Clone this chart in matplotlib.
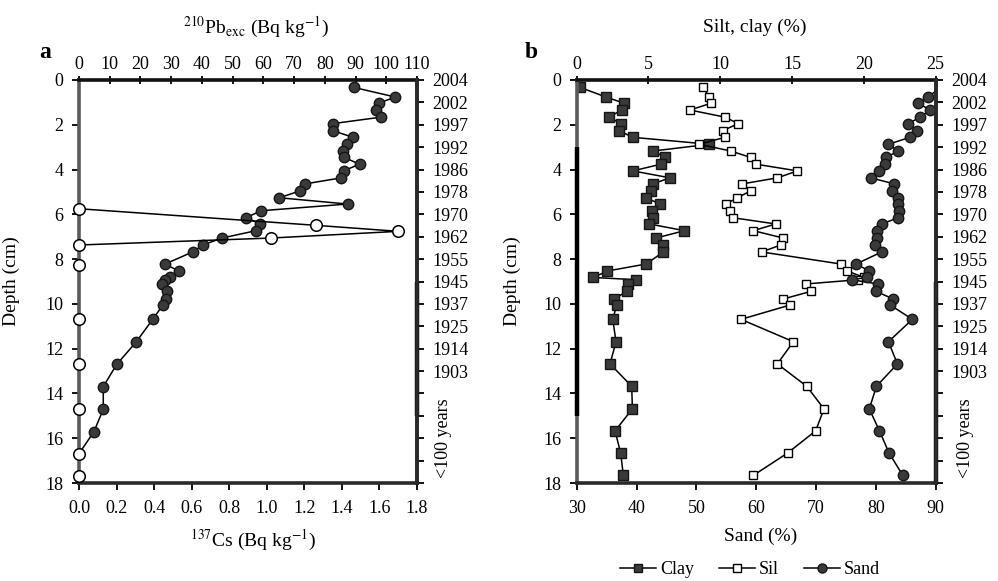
import numpy as np
import matplotlib
matplotlib.use("Agg")
import matplotlib.pyplot as plt
from matplotlib.lines import Line2D

plt.rcParams['font.family'] = ['Liberation Serif', 'DejaVu Serif']
plt.rcParams['mathtext.fontset'] = 'stix'

# ---------------- data: panel a ----------------
pb_depth = [0.33, 0.76, 1.04, 1.34, 1.66, 1.95, 2.26, 2.56, 2.87, 3.17, 3.46, 3.76,
            4.06, 4.37, 4.64, 4.95, 5.26, 5.54, 5.84, 6.15, 6.43, 6.73, 7.06, 7.37,
            7.68, 8.22, 8.55, 8.82, 8.92, 9.11, 9.44, 9.78, 10.05, 10.69, 11.70,
            12.70, 13.69, 14.70, 15.70, 16.69]
pb_exc = [89.4, 102.9, 97.5, 96.8, 98.3, 82.5, 82.5, 89.2, 87.2, 85.9, 86.3, 91.3,
          86.1, 85.4, 73.6, 72.0, 65.2, 87.4, 59.2, 54.4, 59.0, 57.6, 46.5, 40.3,
          37.0, 28.0, 32.7, 29.6, 28.0, 26.9, 28.8, 28.3, 27.3, 24.0, 18.6,
          12.3, 7.9, 7.9, 4.9, 0.0]
cs_depth = [5.75, 6.49, 6.76, 7.06, 7.37, 8.28, 10.69, 12.70, 14.70, 16.69, 17.70]
cs137 = [0.0, 1.26, 1.70, 1.02, 0.0, 0.0, 0.0, 0.0, 0.0, 0.0, 0.0]

# ---------------- data: panel b ----------------
gs_depth = [0.33, 0.76, 1.04, 1.34, 1.66, 1.95, 2.26, 2.56, 2.87, 3.17, 3.46, 3.76,
            4.06, 4.37, 4.64, 4.95, 5.26, 5.54, 5.84, 6.15, 6.43, 6.73, 7.06, 7.37,
            7.68, 8.22, 8.53, 8.82, 8.92, 9.11, 9.44, 9.78, 10.05, 10.69, 11.69,
            12.68, 13.68, 14.69, 15.67, 16.66, 17.66]
clay = [0.23, 2.04, 3.32, 3.13, 2.25, 3.09, 2.95, 3.90, 9.24, 5.34, 6.15, 5.87,
        3.90, 6.50, 5.29, 5.18, 4.83, 5.80, 5.22, 5.34, 5.06, 7.50, 5.52, 6.04,
        6.04, 4.83, 2.14, 1.16, 4.13, 3.60, 3.48, 2.62, 2.79, 2.51, 2.74,
        2.32, 3.83, 3.88, 2.67, 3.06, 3.25]
silt = [8.82, 9.22, 9.35, 7.89, 10.33, 11.26, 10.17, 10.33, 8.52, 10.72, 12.12, 12.49,
        15.37, 13.97, 11.54, 12.12, 11.19, 10.38, 10.68, 10.86, 13.86, 12.30, 14.39, 14.21,
        12.88, 18.40, 18.85, 20.0, 19.6, 15.97, 16.32, 14.39, 14.86, 11.44, 15.09,
        13.97, 16.02, 17.22, 16.64, 14.69, 12.30]
sand = [90.9, 88.66, 87.10, 89.05, 87.38, 85.43, 86.82, 85.71, 82.09, 83.76, 81.70, 81.53,
        80.58, 79.14, 83.09, 82.65, 83.76, 83.76, 83.93, 83.76, 80.97, 80.14, 80.14, 79.86,
        80.97, 76.7, 78.9, 78.5, 76.0, 80.3, 80.0, 82.9, 82.4, 86.1, 82.1,
        83.6, 80.1, 78.9, 80.6, 82.2, 84.5]

depth_ticks = list(range(0, 19, 2))
year_ticks = list(range(0, 19))
year_labels = ['2004', '2002', '1997', '1992', '1986', '1978', '1970', '1962', '1955',
               '1945', '1937', '1925', '1914', '1903', '', '', '', '', '']
pb_ticks = list(range(0, 111, 10))
cs_ticks = [0.0, 0.2, 0.4, 0.6, 0.8, 1.0, 1.2, 1.4, 1.6, 1.8]
fine_ticks = [0, 5, 10, 15, 20, 25]
sand_ticks = [30, 40, 50, 60, 70, 80, 90]

FS = 13
LBL = 14
W, H = 998, 581

fig = plt.figure(figsize=(W / 100, H / 100), dpi=100)

def px_rect(l, t, r, b):
    return [l / W, 1 - b / H, (r - l) / W, (b - t) / H]

axA = fig.add_axes(px_rect(79, 80, 417, 483))
axB = fig.add_axes(px_rect(576.7, 80, 935.7, 483))

dark = '#3a3a3a'
edge = '#151515'

def style_main(ax, top_ax):
    ax.set_ylim(18, 0)
    ax.set_yticks(depth_ticks)
    ax.tick_params(axis='y', direction='out', length=5, width=1.3, pad=6, labelsize=FS)
    ax.tick_params(axis='x', direction='out', length=5, width=1.3, pad=7, labelsize=FS)
    top_ax.tick_params(axis='x', direction='inout', length=6, width=1.3, pad=2, labelsize=FS)
    for s in ['top', 'right', 'left', 'bottom']:
        top_ax.spines[s].set_visible(False)
    for s in ax.spines.values():
        s.set_visible(True)
        s.set_linewidth(2.6)
        s.set_color('#2a2a2a')
    ax.spines['left'].set_color('#5a5a5a')
    ax.spines['top'].set_color('#111111')
    ax.set_ylabel('Depth (cm)', fontsize=LBL)
    # right-hand chronology axis
    axr = ax.twinx()
    axr.set_ylim(18, 0)
    axr.set_yticks(year_ticks, labels=year_labels)
    axr.tick_params(axis='y', direction='out', length=5, width=1.3, pad=6, labelsize=FS)
    for s in ['top', 'left', 'bottom']:
        axr.spines[s].set_visible(False)
    axr.spines['right'].set_linewidth(2.6)
    axr.spines['right'].set_color('#2a2a2a')
    return axr

# ---------------- panel a ----------------
axAt = axA.twiny()
axA.set_zorder(axAt.get_zorder() + 1)
axA.patch.set_visible(False)
axA.set_xlim(0, 1.8)
axAt.set_xlim(0, 110)
axA.set_xticks(cs_ticks, labels=[f'{v:.1f}' for v in cs_ticks])
axAt.set_xticks(pb_ticks)
axAr = style_main(axA, axAt)
axA.set_ylim(18, 0)

axAt.plot(pb_exc, pb_depth, color='black', lw=1.1, marker='o', ms=7.5,
          mfc=dark, mec=edge, mew=1.0, clip_on=False, zorder=3)
axA.plot(cs137, cs_depth, color='black', lw=1.1, zorder=2)
axA.plot(cs137, cs_depth, ls='none', marker='o', ms=8.3, mfc='white', mec='black',
         mew=1.1, clip_on=False, zorder=4)

axAt.set_xlabel(r'$^{210}$Pb$_{\rm exc}$ (Bq kg$^{-1}$)', fontsize=LBL)
axAt.xaxis.set_label_coords((256 - 79) / 338, (483 - 27) / 403)
axAt.xaxis.label.set_verticalalignment('center')
axA.set_xlabel(r'$^{137}$Cs (Bq kg$^{-1}$)', fontsize=LBL)
axA.xaxis.set_label_coords((253 - 79) / 338, (483 - 540) / 403)
axA.xaxis.label.set_verticalalignment('center')
axA.yaxis.set_label_coords((20 - 79) / 338, 0.5)

# ---------------- panel b ----------------
axBt = axB.twiny()
axB.set_zorder(axBt.get_zorder() + 1)
axB.patch.set_visible(False)
axB.set_xlim(30, 90)
axBt.set_xlim(0, 25)
axB.set_xticks(sand_ticks)
axBt.set_xticks(fine_ticks)
axBr = style_main(axB, axBt)
axB.set_ylim(18, 0)

axBt.plot(clay, gs_depth, color='black', lw=1.1, marker='s', ms=6.8,
          mfc=dark, mec=edge, mew=1.0, zorder=3)
axBt.plot(silt, gs_depth, color='black', lw=1.1, marker='s', ms=6.2,
          mfc='white', mec='black', mew=1.0, zorder=3)
axB.plot(sand, gs_depth, color='black', lw=1.1, marker='o', ms=7.5,
         mfc=dark, mec=edge, mew=1.0, zorder=3)

axBt.set_xlabel('Silt, clay (%)', fontsize=LBL)
axBt.xaxis.set_label_coords((755 - 576.7) / 359, (483 - 27) / 403)
axBt.xaxis.label.set_verticalalignment('center')
axB.set_xlabel('Sand (%)', fontsize=LBL)
axB.xaxis.set_label_coords((761 - 576.7) / 359, (483 - 536) / 403)
axB.xaxis.label.set_verticalalignment('center')
axB.yaxis.set_label_coords((521 - 576.7) / 359, 0.5)

# darker spine segments as in the scanned figure
for ax, xpos, y0, y1 in [(axA, 1, 9, 15), (axB, 0, 3, 15), (axB, 1, 9, 18)]:
    ax.plot([xpos, xpos], [y0, y1], transform=ax.get_yaxis_transform(),
            color='black', lw=3.2, clip_on=False, zorder=5, solid_capstyle='butt')

# ---------------- annotations ----------------
fig.text(45 / W, 1 - 52 / H, 'a', fontsize=17, fontweight='bold', ha='center', va='center')
fig.text(531 / W, 1 - 52 / H, 'b', fontsize=17, fontweight='bold', ha='center', va='center')
fig.text(443 / W, 1 - 438 / H, '<100 years', rotation=90, fontsize=FS, ha='center', va='center')
fig.text(966 / W, 1 - 438 / H, '<100 years', rotation=90, fontsize=FS, ha='center', va='center')

handles = [
    Line2D([], [], color='black', lw=1.1, marker='s', ms=6, mfc=dark, mec=edge),
    Line2D([], [], color='black', lw=1.1, marker='s', ms=5.5, mfc='white', mec='black'),
    Line2D([], [], color='black', lw=1.1, marker='o', ms=6.5, mfc=dark, mec=edge),
]
fig.legend(handles, ['Clay', 'Sil', 'Sand'], loc='center', bbox_to_anchor=(750 / W, 1 - 570 / H),
           ncol=3, frameon=False, fontsize=FS, handlelength=2.0, handletextpad=0.2,
           columnspacing=1.4)

fig.savefig('out.png', dpi=100)
